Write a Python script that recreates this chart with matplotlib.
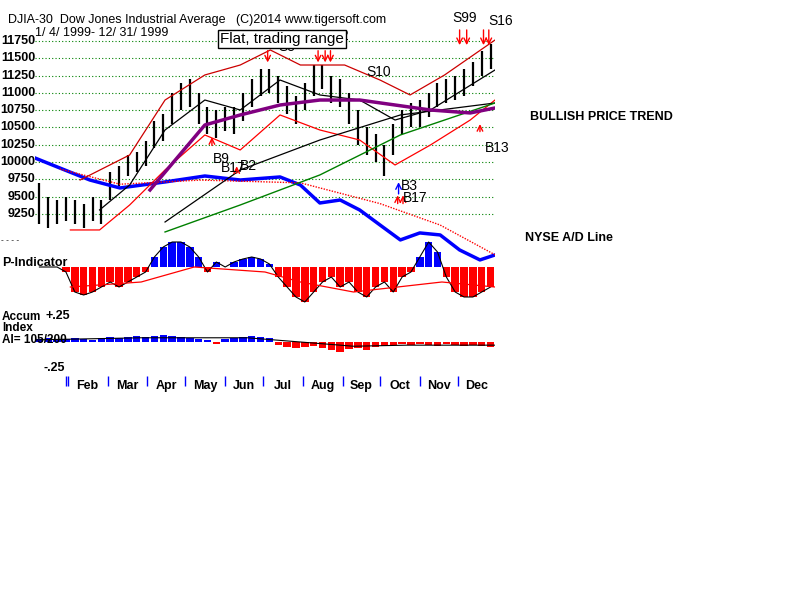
import matplotlib
matplotlib.use("Agg")
import matplotlib.pyplot as plt

W, H = 800, 600
# ---------------- data ----------------
weeks = [i + 0.5 for i in range(52)]
close = [9350, 9250, 9300, 9350, 9300, 9250, 9350, 9300, 9700, 9800, 9950, 10000,
         10150, 10400, 10500, 10800, 10950, 11000, 10800, 10600, 10550, 10650, 10600, 10800,
         11000, 11150, 11200, 11050, 10900, 10750, 10950, 11150, 11250, 11050, 11000, 10800,
         10500, 10300, 10200, 10000, 10350, 10600, 10700, 10700, 10850, 11000, 11050, 11100,
         11150, 11300, 11450, 11550]
high = [9700, 9500, 9450, 9500, 9450, 9400, 9500, 9450, 9850, 9950, 10100, 10150,
        10300, 10600, 10700, 11000, 11150, 11200, 11000, 10800, 10750, 10800, 10800, 11000,
        11200, 11350, 11350, 11250, 11100, 10950, 11150, 11400, 11400, 11250, 11200, 11000,
        10750, 10500, 10400, 10250, 10550, 10750, 10850, 10900, 11000, 11150, 11200, 11250,
        11350, 11450, 11600, 11700]
low = [9100, 9050, 9100, 9150, 9100, 9050, 9150, 9100, 9450, 9650, 9800, 9850,
       9950, 10200, 10300, 10550, 10750, 10800, 10550, 10400, 10350, 10450, 10400, 10600,
       10800, 10950, 11000, 10850, 10700, 10550, 10750, 10950, 11050, 10850, 10800, 10550,
       10250, 10100, 10000, 9800, 10100, 10400, 10500, 10500, 10650, 10800, 10850, 10900,
       10950, 11100, 11250, 11350]

ub_x = [5.1, 10.7, 14.7, 19.2, 23.2, 26.6, 30.0, 35.0, 39.0, 42.4, 46.3, 52]
ub_y = [9741, 10103, 10897, 11259, 11403, 11620, 11403, 11403, 11186, 10970, 11259, 11764]
lb_x = [4.0, 7.3, 10.7, 14.7, 19.2, 23.2, 27.7, 32.2, 36.7, 40.7, 44.7, 49.2, 52]
lb_y = [9019, 9019, 9380, 9886, 10392, 10175, 10681, 10464, 10319, 9958, 10247, 10608, 10897]
ma_x = [7.3, 10.7, 14.7, 19.2, 23.2, 27.7, 32.2, 36.7, 40.7, 44.7, 52]
ma_y = [9308, 9669, 10464, 10897, 10753, 11186, 10970, 10897, 10608, 10753, 11331]
pu_x = [13.0, 19.2, 23.2, 27.7, 32.2, 36.7, 40.7, 44.7, 49.2, 52]
pu_y = [9597, 10536, 10681, 10825, 10897, 10897, 10825, 10753, 10710, 10782]
lg_x = [14.7, 23.2, 32.2, 41.3, 52]
lg_y = [9134, 9886, 10319, 10681, 10854]
gr_x = [14.7, 23.2, 32.2, 41.3, 52]
gr_y = [8990, 9380, 9814, 10392, 10854]
ad_x = [0, 2.8, 6.2, 9.6, 14.7, 19.2, 23.2, 27.7, 30.0, 32.2, 34.5, 36.7, 39.0, 41.3, 43.5, 45.8, 48.0, 50.3, 52]
ad_y = [10059, 9915, 9741, 9626, 9713, 9799, 9741, 9785, 9669, 9409, 9452, 9308, 9091, 8875, 8976, 8947, 8730, 8586, 8658]
adm_x = [2.8, 9.6, 18.7, 30.0, 39.0, 45.8, 52]
adm_y = [9900, 9680, 9740, 9700, 9400, 9090, 8660]

pind = [0, 0, 0, -5, -25, -28, -25, -20, -15, -20, -15, -10, -5, 10, 20, 25, 25, 20,
        10, -5, 5, 0, 5, 8, 10, 8, 3, -10, -20, -30, -35, -25, -15, -10, -20, -15,
        -25, -30, -20, -15, -25, -10, -5, 10, 25, 15, -10, -25, -30, -30, -25, -20]
pma_x = [4, 12, 18, 26, 30, 36, 41, 46, 52]
pma_y = [-20, -15, 0, -5, -15, -25, -20, -15, -20]
accum = [0.03, 0.04, 0.02, 0.03, 0.04, 0.03, 0.02, 0.04, 0.05, 0.04, 0.05, 0.06,
         0.05, 0.06, 0.07, 0.06, 0.05, 0.04, 0.03, 0.02, -0.02, 0.03, 0.04, 0.05,
         0.06, 0.05, 0.04, -0.03, -0.05, -0.06, -0.05, -0.04, -0.06, -0.08, -0.09, -0.07,
         -0.06, -0.08, -0.05, -0.04, -0.03, -0.02, -0.03, -0.02, -0.03, -0.04, -0.02, -0.03,
         -0.04, -0.03, -0.04, -0.05]
acc_ma_x = [0, 12, 24, 30, 36, 42, 52]
acc_ma_y = [0.02, 0.04, 0.04, 0.0, -0.04, -0.03, -0.03]
price_ticks = [9250, 9500, 9750, 10000, 10250, 10500, 10750, 11000, 11250, 11500, 11750]
month_edges = [3.7, 8.2, 12.7, 17.0, 21.5, 25.8, 30.3, 34.8, 39.0, 43.5, 47.8]
months = ["Feb", "Mar", "Apr", "May", "Jun", "Jul", "Aug", "Sep", "Oct", "Nov", "Dec"]

FAM = "Liberation Sans"

def rect(x0, y0, x1, y1):
    return [x0 / W, 1 - y1 / H, (x1 - x0) / W, (y1 - y0) / H]

fig = plt.figure(figsize=(8, 6), dpi=100)
fig.patch.set_facecolor("white")
FONT = dict(fontfamily=FAM, fontweight="bold")

# ---- price axes ----
ax = fig.add_axes(rect(35, 10, 495, 262))
ax.set_xlim(0, 52)
ax.set_ylim(8556, 12198)
ax.axis("off")
for t in price_ticks:
    ax.axhline(t, color="#008000", ls=(0, (1, 2)), lw=0.8)
    ax.text(0.0, t, str(t), ha="right", va="center", fontsize=9, **FONT)
ax.vlines(weeks, low, high, color="black", lw=1.6)
ax.plot(ad_x, ad_y, color="#0000ff", lw=2.5)
ax.plot(adm_x, adm_y, color="red", ls=(0, (1, 1)), lw=1)
ax.plot(ub_x, ub_y, color="#cc0000", lw=0.9)
ax.plot(lb_x, lb_y, color="red", lw=0.9)
ax.plot(ma_x, ma_y, color="black", lw=0.9)
ax.plot(lg_x, lg_y, color="black", lw=0.9)
ax.plot(gr_x, gr_y, color="#008000", lw=1)
ax.plot(pu_x, pu_y, color="#800080", lw=2.5)

def arrow(x, y0, y1, c="red"):
    ax.annotate("", xy=(x, y1), xytext=(x, y0),
                arrowprops=dict(arrowstyle="->", color=c, lw=1))
for x in [26.3, 32.0, 32.8, 33.4]:
    arrow(x, 11650, 11400)
for x in [48.0, 48.8, 50.7, 51.3]:
    arrow(x, 11950, 11650)
arrow(20.0, 10200, 10400)
arrow(22.8, 9800, 9980)
arrow(50.3, 10400, 10590)
arrow(41.1, 9500, 9750, "#0000ff")
arrow(41.0, 9360, 9560)
arrow(41.6, 9360, 9560)

def lab(x, y, s):
    ax.text(x, y, s, fontsize=10, fontfamily=FAM)
lab(26.0, 11700, "S3")
lab(27.5, 11600, "S5")
lab(32.8, 11760, "B12")
lab(37.5, 11250, "S10")
lab(47.2, 12020, "S99")
lab(51.2, 11980, "S16")
lab(20.1, 9990, "B9")
lab(21.0, 9860, "B17")
lab(23.2, 9890, "B2")
lab(50.8, 10150, "B13")
lab(41.4, 9600, "B3")
lab(41.6, 9420, "B17")
ax.text(-3.8, 8840, "- - - -", fontsize=6, fontfamily=FAM)

# ---- P-indicator ----
ap = fig.add_axes(rect(35, 235, 495, 310))
ap.set_xlim(0, 52)
ap.set_ylim(-43, 32)
ap.axis("off")
ap.bar(weeks, pind, width=0.85,
       color=["#0000ff" if v > 0 else "red" for v in pind])
ap.plot(weeks, pind, color="black", lw=0.8)
ap.plot(pma_x, pma_y, color="red", lw=0.9)

# ---- Accum index ----
aa = fig.add_axes(rect(35, 314, 495, 370))
aa.set_xlim(0, 52)
aa.set_ylim(-0.265, 0.265)
aa.axis("off")
aa.bar(weeks, accum, width=0.85,
       color=["#0000ff" if v > 0 else "red" for v in accum])
aa.plot(acc_ma_x, acc_ma_y, color="black", lw=0.8)
aa.text(1.2, 0.25, "+.25", ha="left", va="center", fontsize=9, **FONT)
aa.text(1.0, -0.25, "-.25", ha="left", va="center", fontsize=9, **FONT)

# ---- month axis ----
am = fig.add_axes(rect(35, 376, 495, 394))
am.set_xlim(0, 52)
am.set_ylim(0, 1)
am.axis("off")
am.vlines([3.5] + month_edges, 0.45, 1.0, color="#0000ff", lw=1)
mids = [(month_edges[i] + (month_edges[i + 1] if i + 1 < len(month_edges) else 52)) / 2
        for i in range(len(months))]
for m, x in zip(months, mids):
    am.text(x, 0.45, m, ha="center", va="center", fontsize=9, **FONT)

# ---- texts ----
def ftext(x, y, s, size=9, **kw):
    fig.text(x / W, 1 - y / H, s, fontsize=size, va="center", fontfamily=FAM, **kw)
ftext(8, 20, "DJIA-30  Dow Jones Industrial Average   (C)2014 www.tigersoft.com", 9)
ftext(35, 33, "1/ 4/ 1999- 12/ 31/ 1999", 9)
fig.text(282 / W, 1 - 39 / H, "Flat, trading range", fontsize=11, ha="center", va="center",
         fontfamily=FAM,
         bbox=dict(boxstyle="square,pad=0.15", fc="white", ec="black", lw=1))
ftext(530, 117, "BULLISH PRICE TREND", 9, fontweight="bold")
ftext(525, 238, "NYSE A/D Line", 9, fontweight="bold")
ftext(2, 263, "P-Indicator", 9, fontweight="bold")
ftext(2, 317, "Accum", 8.5, fontweight="bold")
ftext(2, 328, "Index", 8.5, fontweight="bold")
ftext(2, 340, "AI= 105/200", 8.5, fontweight="bold")

fig.savefig("out.png", dpi=100, facecolor="white")
